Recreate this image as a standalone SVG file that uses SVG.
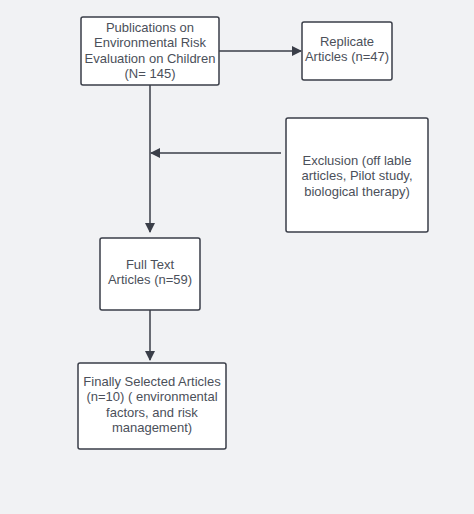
<svg xmlns="http://www.w3.org/2000/svg" width="474" height="514" viewBox="0 0 474 514">
<defs>
<style>
.box{fill:#ffffff;stroke:#3a3e48;stroke-width:1.5}
.t{font-family:"Liberation Sans",Arial,sans-serif;font-size:13px;fill:#4b505a;text-anchor:middle}
.c{stroke:#3a3e48;stroke-width:1.5;fill:none}
</style>
<marker id="ah" markerWidth="10" markerHeight="10" refX="9" refY="5" orient="auto" markerUnits="userSpaceOnUse">
<path d="M0,0 L10,5 L0,10 Z" fill="#3a3e48"/>
</marker>
</defs>
<rect width="474" height="514" fill="#f1f2f4"/>
<g id="connectors">
<line class="c" x1="219" y1="51" x2="301" y2="51" marker-end="url(#ah)"/>
<line class="c" x1="150" y1="85" x2="150" y2="232" marker-end="url(#ah)"/>
<line class="c" x1="281" y1="153" x2="151" y2="153" marker-end="url(#ah)"/>
<line class="c" x1="150" y1="310" x2="150" y2="360" marker-end="url(#ah)"/>
</g>
<g id="n1">
<rect class="box" x="81" y="17" width="138" height="68" rx="2"/>
<text class="t" x="150" y="31.5">Publications on</text>
<text class="t" x="150" y="47">Environmental Risk</text>
<text class="t" x="150" y="62.5">Evaluation on Children</text>
<text class="t" x="150" y="78">(N= 145)</text>
</g>
<g id="n2">
<rect class="box" x="302" y="22" width="90" height="58" rx="2"/>
<text class="t" x="347" y="45.5">Replicate</text>
<text class="t" x="347" y="61">Articles (n=47)</text>
</g>
<g id="n3">
<rect class="box" x="286" y="118" width="142" height="114" rx="2"/>
<text class="t" x="357" y="164.5">Exclusion (off lable</text>
<text class="t" x="357" y="180">articles, Pilot study,</text>
<text class="t" x="357" y="195.5">biological therapy)</text>
</g>
<g id="n4">
<rect class="box" x="100" y="238" width="100" height="72" rx="2"/>
<text class="t" x="150" y="268.5">Full Text</text>
<text class="t" x="150" y="284">Articles (n=59)</text>
</g>
<g id="n5">
<rect class="box" x="78" y="363" width="148" height="86" rx="2"/>
<text class="t" x="152" y="385.5">Finally Selected Articles</text>
<text class="t" x="152" y="401">(n=10) ( environmental</text>
<text class="t" x="152" y="416.5">factors, and risk</text>
<text class="t" x="152" y="432">management)</text>
</g>
</svg>
